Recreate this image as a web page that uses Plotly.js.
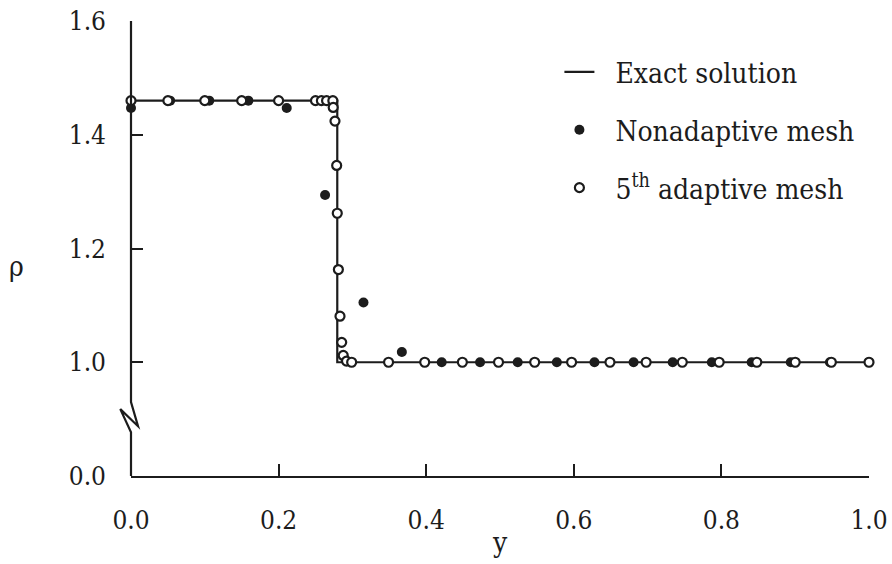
<!DOCTYPE html>
<html>
<head>
<meta charset="utf-8">
<script src="https://cdn.plot.ly/plotly-3.0.1.min.js"></script>
<style>html,body{margin:0;padding:0;background:#fff;}#chart{width:892px;height:564px;}</style>
</head>
<body>
<div id="chart"></div>
<script>
// Exact solution (step)
const exactX = [0, 0.2795, 0.2795, 1.0];
const exactY = [1.46, 1.46, 1.0, 1.0];

// Nonadaptive mesh (filled dots)
const nonX = [0, 0.053, 0.106, 0.159, 0.211, 0.263, 0.315, 0.367, 0.421, 0.473, 0.524, 0.577, 0.628, 0.681, 0.734, 0.787, 0.841, 0.894, 0.947, 1.0];
const nonY = [1.447, 1.46, 1.46, 1.46, 1.447, 1.294, 1.105, 1.018, 1.0, 1.0, 1.0, 1.0, 1.0, 1.0, 1.0, 1.0, 1.0, 1.0, 1.0, 1.0];

// 5th adaptive mesh (open circles)
const adX = [0, 0.05, 0.1, 0.15, 0.2, 0.25, 0.258, 0.265, 0.2735, 0.274, 0.2764, 0.2787, 0.2795, 0.281, 0.2832, 0.2855, 0.2876, 0.292, 0.299,
             0.349, 0.398, 0.449, 0.498, 0.547, 0.597, 0.649, 0.698, 0.747, 0.797, 0.848, 0.900, 0.949, 1.0];
const adY = [1.46, 1.46, 1.46, 1.46, 1.46, 1.46, 1.46, 1.46, 1.46, 1.448, 1.424, 1.346, 1.262, 1.163, 1.081, 1.035, 1.012, 1.002, 1.0,
             1.0, 1.0, 1.0, 1.0, 1.0, 1.0, 1.0, 1.0, 1.0, 1.0, 1.0, 1.0, 1.0, 1.0];

// Tick labels (broken axis: bottom tick stands for 0.0)
const xTickVals = [0, 0.2, 0.4, 0.6, 0.8, 1.0];
const xTickText = ['0.0', '0.2', '0.4', '0.6', '0.8', '1.0'];
const yTickVals = [0.8, 1.0, 1.2, 1.4, 1.6];
const yTickText = ['0.0', '1.0', '1.2', '1.4', '1.6'];

const ink = '#1c1c1c';
const serif = '"DejaVu Serif Condensed", "DejaVu Serif", serif';

const traces = [
  {x: exactX, y: exactY, mode: 'lines', name: '\u00a0\u00a0Exact solution', legendgroup: 'a',
   line: {color: ink, width: 2.2}, cliponaxis: false, hoverinfo: 'skip'},
  {x: nonX, y: nonY, mode: 'markers', name: '\u00a0\u00a0Nonadaptive mesh', legendgroup: 'b',
   marker: {symbol: 'circle', size: 10, color: ink, line: {width: 0}}, cliponaxis: false},
  {x: adX, y: adY, mode: 'markers', name: '\u00a0\u00a05<sup>th</sup> adaptive mesh', legendgroup: 'c',
   marker: {symbol: 'circle', size: 9, color: '#ffffff', line: {width: 2.2, color: ink}}, cliponaxis: false}
];

// y-axis line with break mark, in paper fractions of the plot area
const axisPath = 'M 0,0 L 0,0.096 L -0.0145,0.147 L 0.0095,0.1095 L 0,0.1625 L 0,1';

const layout = {
  width: 892, height: 564,
  margin: {l: 131, r: 23, t: 21, b: 88, pad: 0, autoexpand: false},
  paper_bgcolor: '#ffffff', plot_bgcolor: '#ffffff',
  font: {family: serif, color: ink, size: 26},
  showlegend: true,
  legend: {x: 0.5805, y: 0.9425, xanchor: 'left', yanchor: 'top', bgcolor: 'rgba(0,0,0,0)',
           font: {family: serif, size: 28, color: ink}, traceorder: 'grouped', tracegroupgap: 18.5},
  xaxis: {range: [0, 1], tickmode: 'array', tickvals: xTickVals, ticktext: xTickText,
          showgrid: false, zeroline: false, showline: true, linecolor: ink, linewidth: 2.2,
          ticks: 'inside', ticklen: 12, tickwidth: 2, tickcolor: ink, ticklabelstandoff: 20,
          tickfont: {family: serif, size: 26, color: ink}},
  yaxis: {range: [0.8, 1.6], tickmode: 'array', tickvals: yTickVals, ticktext: yTickText,
          showgrid: false, zeroline: false, showline: false,
          ticks: 'inside', ticklen: 12, tickwidth: 2, tickcolor: ink, ticklabelstandoff: 24,
          tickfont: {family: serif, size: 26, color: ink}},
  shapes: [
    {type: 'path', xref: 'paper', yref: 'paper', layer: 'above', path: axisPath,
     line: {color: ink, width: 2.2}}
  ],
  annotations: [
    {text: '\u03c1', xref: 'paper', yref: 'paper', x: -0.168, y: 0.46, showarrow: false,
     font: {family: serif, size: 28, color: ink}},
    {text: 'y', xref: 'paper', yref: 'paper', x: 0.5, y: -0.187, showarrow: false,
     font: {family: serif, size: 28, color: ink}}
  ]
};

Plotly.newPlot('chart', traces, layout, {displayModeBar: false, staticPlot: true});
</script>
</body>
</html>
